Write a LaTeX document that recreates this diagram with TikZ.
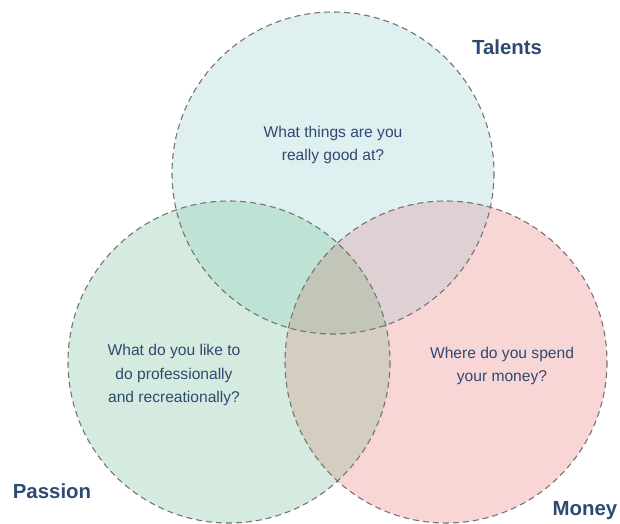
\documentclass[tikz,border=0pt]{standalone}
\usepackage{fontspec}
\setmainfont{Liberation Sans}
\begin{document}
\begin{tikzpicture}[x=1pt,y=-1pt,
  question/.style={text=qtext,font=\fontsize{15.6}{23.5}\selectfont,align=center},
  setlabel/.style={text=qtext,font=\fontsize{20.4}{24}\selectfont\bfseries},
  ring/.style={draw=ringgray,line width=1.1pt,dash pattern=on 6pt off 4pt}]
\definecolor{qtext}{HTML}{2E4A72}
\definecolor{ringgray}{HTML}{747474}
\definecolor{ctop}{HTML}{DFF0F0}
\definecolor{cleft}{HTML}{D6EBDF}
\definecolor{cright}{HTML}{F9D6D6}
\definecolor{ctl}{HTML}{BEE3D5}
\definecolor{ctr}{HTML}{DFD0D3}
\definecolor{clr}{HTML}{D3CEBF}
\definecolor{cmid}{HTML}{C2C6B8}
\useasboundingbox (0,0) rectangle (620,523);
\def\R{161}
\coordinate (T) at (333,173);
\coordinate (L) at (229,362);
\coordinate (M) at (446,362);
% base fills
\fill[ctop] (T) circle (\R);
\fill[cleft] (L) circle (\R);
\fill[cright] (M) circle (\R);
% pairwise overlaps
\begin{scope}\clip (T) circle (\R); \fill[ctl] (L) circle (\R);\end{scope}
\begin{scope}\clip (T) circle (\R); \fill[ctr] (M) circle (\R);\end{scope}
\begin{scope}\clip (L) circle (\R); \fill[clr] (M) circle (\R);\end{scope}
% centre overlap
\begin{scope}\clip (T) circle (\R); \clip (L) circle (\R); \fill[cmid] (M) circle (\R);\end{scope}
% dashed outlines
\draw[ring] (T) circle (\R);
\draw[ring] (L) circle (\R);
\draw[ring] (M) circle (\R);
% questions
\node[question] (qt) at (333,145) {What things are you\\really good at?};
\node[question] (ql) at (174,375) {What do you like to\\do professionally\\and recreationally?};
\node[question] (qm) at (502,366) {Where do you spend\\your money?};
% set labels
\node[setlabel] (talents) at (507,47) {Talents};
\node[setlabel] (passion) at (52,491) {Passion};
\node[setlabel] (money) at (585,511) {Money};
\end{tikzpicture}
\end{document}
